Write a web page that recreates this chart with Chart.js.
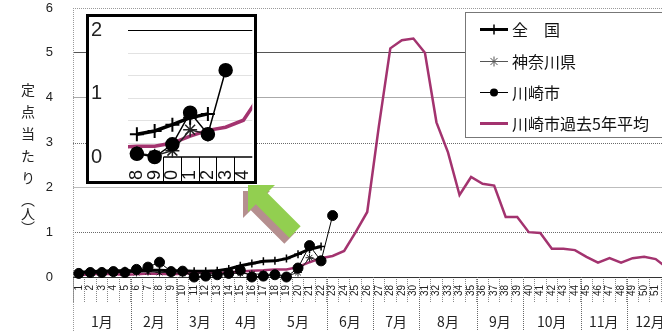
<!DOCTYPE html>
<html>
<head>
<meta charset="utf-8">
<script src="https://cdn.jsdelivr.net/npm/chart.js@4.4.1/dist/chart.umd.min.js"></script>
<style>
  html, body { margin: 0; padding: 0; background: #fff; overflow: hidden; width: 662px; height: 331px; }
  #wrap { position: relative; width: 700px; height: 331px; }
  #main { position: absolute; left: 0; top: 0; }
  #ytitle { position: absolute; left: 21px; top: 83px; writing-mode: vertical-rl; font: 14px 'Noto Sans CJK JP', sans-serif; color: #222; letter-spacing: 8px; line-height: 1; }
  #ytitle .p { letter-spacing: 0; }
  #inset { position: absolute; left: 86px; top: 14px; width: 165px; height: 164px; border: 3px solid #000; background: #fff; }
  #inset canvas { display: block; }
</style>
</head>
<body>
<div id="wrap">
  <canvas id="main" width="700" height="331"></canvas>
  <div id="ytitle">定点当たり<span class="p">（人）</span></div>
  <div id="inset"><canvas id="zoom" width="165" height="164"></canvas></div>
</div>
<script>
// Surveillance weeks
const weeks = ['1','2','3','4','5','6','7','8','9','10','11','12','13','14','15','16','17','18','19','20',
  '21','22','23','24','25','26','27','28','29','30','31','32','33','34','35','36','37','38','39','40',
  '41','42','43','44','45','46','47','48','49','50','51','52'];

// Months along the bottom and how many weeks each one spans
const monthNames = ['1月','2月','3月','4月','5月','6月','7月','8月','9月','10月','11月','12月'];
const monthWeeks = [5, 4, 4, 4, 5, 4, 4, 5, 4, 5, 4, 4];

// Reports per sentinel site, by week
const nationalData = [0.10,0.12,0.13,0.14,0.14,0.14,0.15,0.15,0.14,0.14,0.13,0.13,0.14,0.18,0.25,0.30,0.35,0.36,0.41,0.51,0.62,0.68];
const kanagawaData = [0.06,0.08,0.08,0.10,0.10,0.10,0.12,0.10,0.10,0.08,0.08,0.07,0.07,0.08,0.08,0.07,0.06,0.06,0.02,0.10,0.43,0.36];
const kawasakiData = [0.08,0.10,0.10,0.12,0.10,0.17,0.22,0.33,0.12,0.13,0.00,0.02,0.05,0.08,0.15,0.00,0.02,0.05,0.00,0.20,0.70,0.36,1.37];
const avg5yData = [0.04,0.06,0.07,0.06,0.05,0.06,0.08,0.07,0.06,0.07,0.09,0.10,0.09,0.10,0.12,0.14,0.15,0.17,0.17,0.22,
  0.33,0.42,0.47,0.58,1.00,1.45,3.35,5.10,5.28,5.32,5.00,3.45,2.78,1.83,2.23,2.08,2.04,1.34,1.34,1.00,
  0.98,0.63,0.63,0.60,0.45,0.32,0.42,0.32,0.42,0.45,0.40,0.20];

const seriesNames = ['全　国', '神奈川県', '川崎市', '川崎市過去5年平均'];
const yTicks = [0, 1, 2, 3, 4, 5, 6];

const MAGENTA = '#a3336f';
const CJK = "'Noto Sans CJK JP', sans-serif";
const LATIN = "'Liberation Sans', Arial, sans-serif";
const CLEAR = 'rgba(0,0,0,0)';

const fill = arr => weeks.map((_, i) => (i < arr.length ? arr[i] : null));

// Small helpers for the hand-drawn legend markers
function marker(ctx, style, cx, cy, r, color, lw) {
  ctx.save();
  ctx.strokeStyle = color; ctx.fillStyle = color; ctx.lineWidth = lw;
  ctx.beginPath();
  if (style === 'circle') {
    ctx.arc(cx, cy, r, 0, Math.PI * 2); ctx.fill();
  } else if (style === 'cross') {
    ctx.moveTo(cx, cy - r); ctx.lineTo(cx, cy + r);
    ctx.moveTo(cx - r, cy); ctx.lineTo(cx + r, cy); ctx.stroke();
  } else if (style === 'star') {
    ctx.moveTo(cx, cy - r); ctx.lineTo(cx, cy + r);
    ctx.moveTo(cx - r, cy); ctx.lineTo(cx + r, cy);
    const d = r * 0.707;
    ctx.moveTo(cx - d, cy - d); ctx.lineTo(cx + d, cy + d);
    ctx.moveTo(cx - d, cy + d); ctx.lineTo(cx + d, cy - d); ctx.stroke();
  }
  ctx.restore();
}

// Frame, dotted grid levels, month dividers and month names
const framePlugin = {
  id: 'frame',
  beforeDatasetsDraw(chart) {
    const { ctx, chartArea: a, scales: { y } } = chart;
    const H = chart.height;
    ctx.save();
    ctx.lineWidth = 1;
    ctx.setLineDash([1, 1]);
    ctx.strokeStyle = '#6a6a6a';
    [3, 1].forEach(v => {
      const py = Math.round(y.getPixelForValue(v)) + 0.5;
      ctx.beginPath(); ctx.moveTo(a.left, py); ctx.lineTo(a.right, py); ctx.stroke();
    });
    ctx.strokeStyle = '#9a9a9a';
    const top = Math.round(a.top) + 0.5;
    ctx.beginPath(); ctx.moveTo(a.left, top); ctx.lineTo(a.right, top); ctx.stroke();
    const lx = Math.round(a.left) + 0.5;
    ctx.beginPath(); ctx.moveTo(lx, a.top); ctx.lineTo(lx, H); ctx.stroke();
    // month dividers through the label band
    const catW = (a.right - a.left) / weeks.length;
    ctx.strokeStyle = '#666';
    let w = 0;
    monthWeeks.forEach(n => {
      w += n;
      const px = Math.round(a.left + w * catW) + 0.5;
      ctx.beginPath(); ctx.moveTo(px, a.bottom); ctx.lineTo(px, H); ctx.stroke();
    });
    ctx.restore();
  },
  afterDraw(chart) {
    const { ctx, chartArea: a } = chart;
    const catW = (a.right - a.left) / weeks.length;
    ctx.save();
    ctx.fillStyle = '#222';
    ctx.font = '14px ' + CJK;
    ctx.textAlign = 'center';
    ctx.textBaseline = 'middle';
    let start = 0;
    monthNames.forEach((m, i) => {
      const cx = a.left + (start + monthWeeks[i] / 2) * catW;
      ctx.fillText(m, cx, 322);
      start += monthWeeks[i];
    });
    ctx.restore();
  }
};

// Boxed legend in the upper right of the plot
const legendPlugin = {
  id: 'boxLegend',
  afterDraw(chart) {
    const ctx = chart.ctx;
    const x0 = 465, y0 = 12, w = 250, h = 125;
    ctx.save();
    ctx.fillStyle = '#fff';
    ctx.fillRect(x0, y0, w, h);
    ctx.strokeStyle = '#777'; ctx.lineWidth = 1;
    ctx.strokeRect(x0 + 0.5, y0 + 0.5, w, h);
    const rows = [29, 61, 92, 123];
    const look = [
      { color: '#000', lw: 3, style: 'cross', r: 5, mlw: 1.5 },
      { color: '#555', lw: 1, style: 'star', r: 5, mlw: 1 },
      { color: '#000', lw: 1, style: 'circle', r: 4, mlw: 1 },
      { color: MAGENTA, lw: 3, style: null }
    ];
    seriesNames.forEach((name, i) => {
      const cy = rows[i];
      const s = look[i];
      ctx.strokeStyle = s.color; ctx.lineWidth = s.lw;
      ctx.beginPath(); ctx.moveTo(480, cy + 0.5); ctx.lineTo(508, cy + 0.5); ctx.stroke();
      if (s.style) marker(ctx, s.style, 494, cy + 0.5, s.r, s.color, s.mlw);
      ctx.fillStyle = '#111';
      ctx.font = '16px ' + CJK;
      ctx.textAlign = 'left'; ctx.textBaseline = 'middle';
      ctx.fillText(name, 512, cy + 1);
    });
    ctx.restore();
  }
};

// Green pointer from the early-season data up to the enlarged view
const arrowPlugin = {
  id: 'pointer',
  afterDraw(chart) {
    const ctx = chart.ctx;
    const T = [248, 185], head = 27, half = 8;
    const B = [T[0] + head / 2, T[1] + head / 2];
    const E = [B[0] + 33.5, B[1] + 33.5];
    const k = half * 0.7071;
    const pts = [
      T, [T[0] + head, T[1]], [B[0] + k, B[1] - k], [E[0] + k, E[1] - k],
      [E[0] - k, E[1] + k], [B[0] - k, B[1] + k], [T[0], T[1] + head]
    ];
    const poly = (dx, dy, color) => {
      ctx.fillStyle = color;
      ctx.beginPath();
      pts.forEach((p, i) => (i ? ctx.lineTo(p[0] + dx, p[1] + dy) : ctx.moveTo(p[0] + dx, p[1] + dy)));
      ctx.closePath(); ctx.fill();
    };
    ctx.save();
    poly(-5, 6, '#b58f8f');
    poly(0, 0, '#92cf50');
    ctx.restore();
  }
};

const gridColors = { 0: '#333', 2: '#bdbdbd', 4: '#aaa', 5: '#555' };

new Chart(document.getElementById('main'), {
  type: 'line',
  data: {
    labels: weeks,
    datasets: [
      { label: seriesNames[0], data: fill(nationalData), borderColor: '#000', borderWidth: 3,
        pointStyle: 'cross', pointRadius: 4, pointBorderWidth: 1.5, pointBorderColor: '#000', order: 1, clip: 8 },
      { label: seriesNames[1], data: fill(kanagawaData), borderColor: '#222', borderWidth: 1,
        pointStyle: 'star', pointRadius: 4, pointBorderWidth: 1, pointBorderColor: '#222', order: 3, clip: 8 },
      { label: seriesNames[2], data: fill(kawasakiData), borderColor: '#000', borderWidth: 1,
        pointStyle: 'circle', pointRadius: 5, pointBackgroundColor: '#000', pointBorderColor: '#000', order: 2, clip: 8 },
      { label: seriesNames[3], data: avg5yData, borderColor: MAGENTA, borderWidth: 2.5,
        pointRadius: 0, order: 4, clip: 8 }
    ]
  },
  options: {
    responsive: false,
    animation: false,
    devicePixelRatio: 1,
    spanGaps: false,
    layout: { autoPadding: false, padding: { top: 8, right: 27, left: 0, bottom: 0 } },
    plugins: { legend: { display: false }, tooltip: { enabled: false }, title: { display: false } },
    scales: {
      x: {
        offset: true,
        afterFit: s => { s.height = 54; },
        border: { display: false },
        grid: { offset: true, drawOnChartArea: false, drawTicks: true, tickLength: 26,
                tickColor: '#888', tickBorderDash: [1, 1], tickWidth: 1 },
        ticks: { autoSkip: false, maxRotation: 90, minRotation: 90, padding: -18,
                 color: '#222', font: { size: 10, family: LATIN } }
      },
      y: {
        min: 0, max: 6,
        afterBuildTicks: s => { s.ticks = yTicks.map(v => ({ value: v })); },
        afterFit: s => { s.width = 73; },
        border: { display: false },
        grid: { drawTicks: true, tickLength: 20, tickColor: CLEAR, lineWidth: 1,
                color: c => gridColors[c.tick && c.tick.value] || CLEAR },
        ticks: { autoSkip: false, padding: 0, color: '#222', font: { size: 13, family: LATIN } }
      }
    }
  },
  plugins: [framePlugin, legendPlugin, arrowPlugin]
});

// Enlarged view of weeks 18-24 on a 0-2 scale
const asPoints = (arr, firstWeek) => arr.slice(firstWeek - 1).map((v, i) => ({ x: i + firstWeek, y: v }));
const zoomXTicks = [18, 19, 19.5, 20, 20.5, 21, 21.5, 22, 22.5, 23, 23.5, 24];
const zoomYTicks = [0, 0.22, 0.58, 0.92, 1, 1.28, 1.64, 2];

const zoomBase = {
  id: 'zoomBase',
  beforeDatasetsDraw(chart) {
    const { ctx, chartArea: a, scales: { x, y } } = chart;
    ctx.save();
    ctx.strokeStyle = '#000'; ctx.lineWidth = 1.5;
    const py = y.getPixelForValue(0);
    ctx.beginPath(); ctx.moveTo(x.getPixelForValue(19.5), py); ctx.lineTo(a.right, py); ctx.stroke();
    ctx.restore();
  }
};

const zoomClip = { left: 0, right: 0, top: 0, bottom: 10 };
new Chart(document.getElementById('zoom'), {
  type: 'line',
  data: {
    datasets: [
      { data: asPoints(nationalData, 18), borderColor: '#000', borderWidth: 3.5,
        pointStyle: 'cross', pointRadius: 7, pointBorderWidth: 2, pointBorderColor: '#000', order: 1, clip: zoomClip },
      { data: asPoints(kanagawaData, 18), borderColor: '#222', borderWidth: 1.5,
        pointStyle: 'star', pointRadius: 7, pointBorderWidth: 1.5, pointBorderColor: '#222', order: 3, clip: zoomClip },
      { data: asPoints(kawasakiData, 18), borderColor: '#000', borderWidth: 1.5,
        pointStyle: 'circle', pointRadius: 6.5, pointBackgroundColor: '#000', pointBorderColor: '#000', order: 2, clip: zoomClip },
      { data: asPoints(avg5yData, 1), borderColor: MAGENTA, borderWidth: 3.5, pointRadius: 0, order: 4, clip: zoomClip }
    ]
  },
  options: {
    responsive: false,
    animation: false,
    devicePixelRatio: 1,
    layout: { autoPadding: false, padding: 0 },
    plugins: { legend: { display: false }, tooltip: { enabled: false } },
    scales: {
      x: {
        type: 'linear', min: 17.5, max: 24.5,
        afterBuildTicks: s => { s.ticks = zoomXTicks.map(v => ({ value: v })); },
        afterFit: s => { s.height = 24; },
        border: { display: false },
        grid: { drawOnChartArea: false, drawTicks: true, tickLength: 24,
                tickColor: c => (c.tick && c.tick.value % 1 !== 0) ? '#000' : CLEAR },
        ticks: { autoSkip: false, maxRotation: 90, minRotation: 90, padding: -11,
                 color: '#111', font: { size: 18, family: LATIN },
                 callback: v => (v % 1 === 0 ? String(v % 10) : '') }
      },
      y: {
        min: 0, max: 2.02,
        afterBuildTicks: s => { s.ticks = zoomYTicks.map(v => ({ value: v })); },
        afterFit: s => { s.width = 39; },
        border: { display: false },
        grid: { drawTicks: true, tickLength: 26, tickColor: CLEAR,
                color: c => {
                  const v = c.tick && c.tick.value;
                  if (v === 2) return '#000';
                  if (v === 0 || v === 1) return CLEAR;
                  return '#e2e2e2';
                } },
        ticks: { autoSkip: false, padding: 0, color: '#222', font: { size: 20, family: LATIN },
                 callback: v => (v % 1 === 0 ? String(v) : '') }
      }
    }
  },
  plugins: [zoomBase]
});
</script>
</body>
</html>
